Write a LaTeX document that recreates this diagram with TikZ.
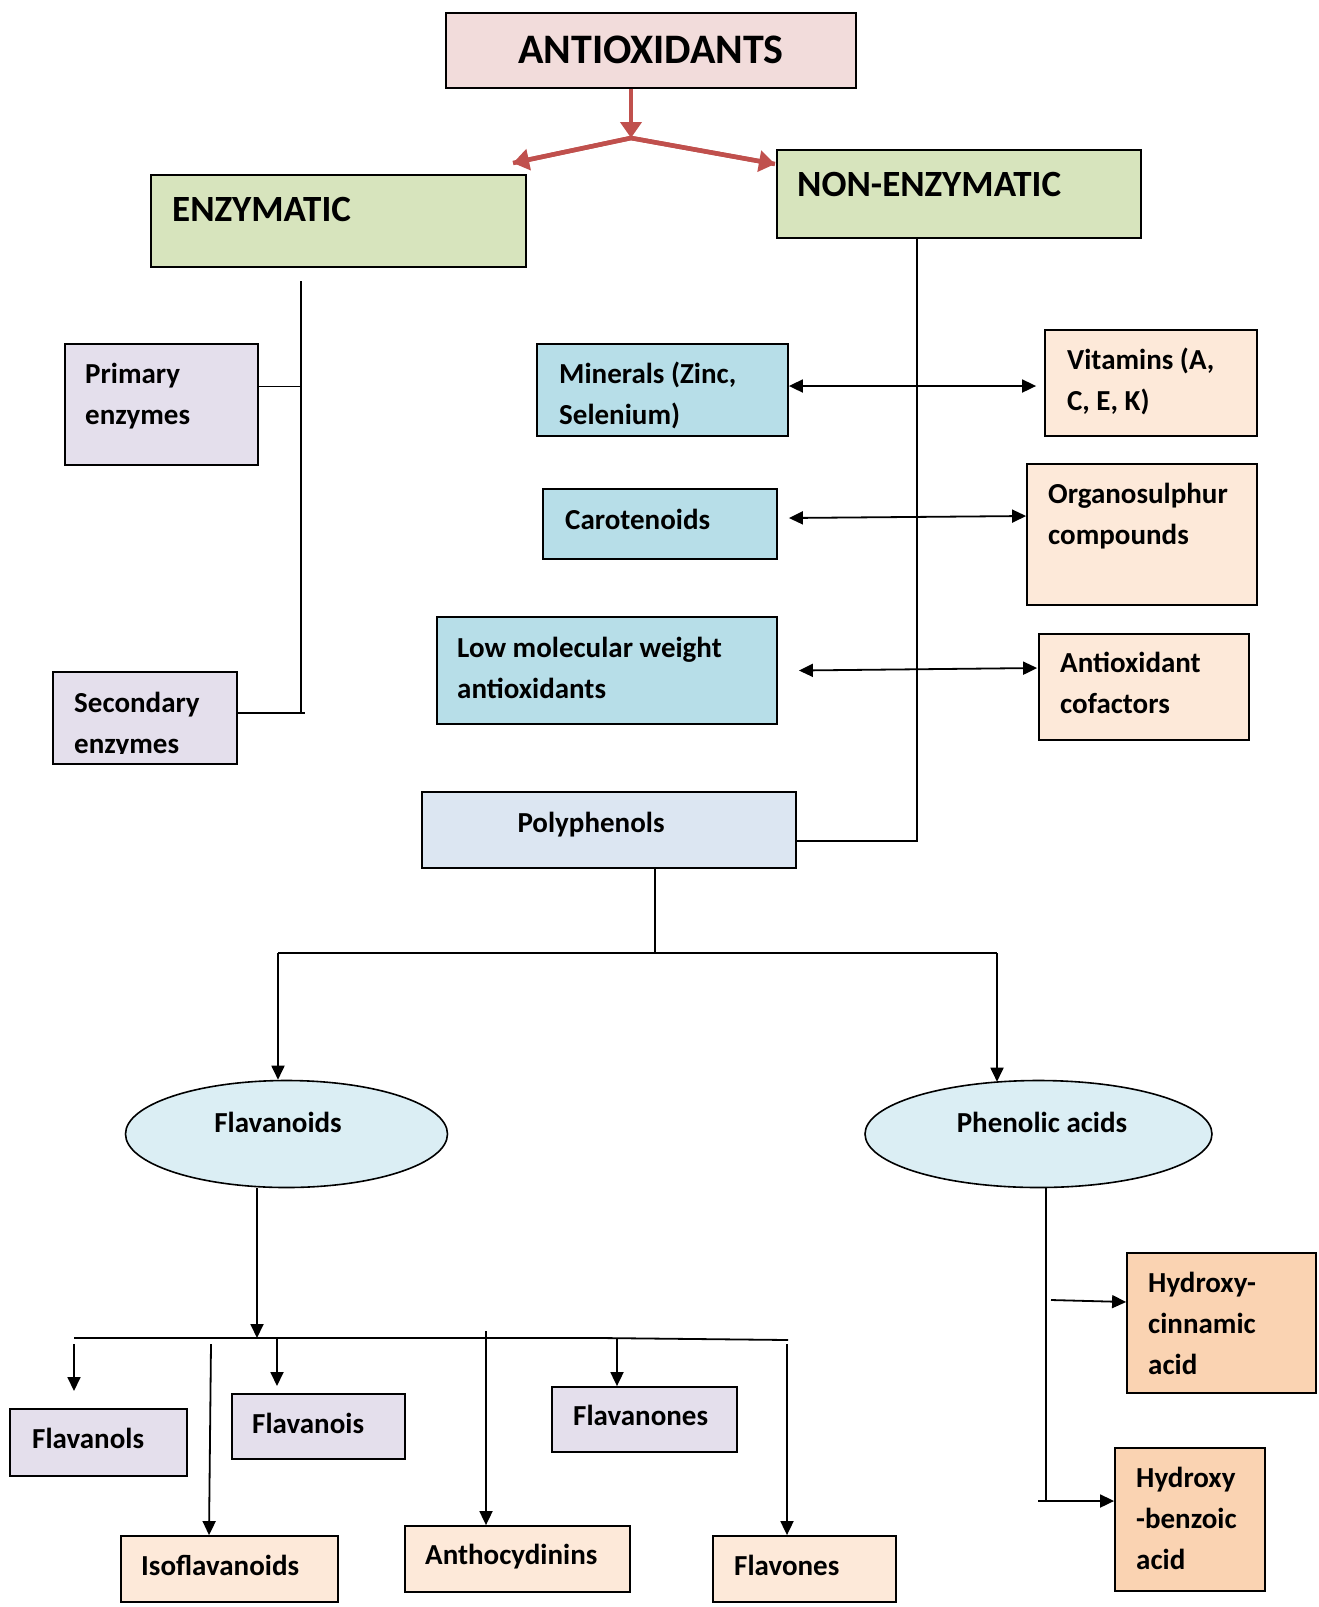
\documentclass[tikz,border=0pt]{standalone}
\usepackage{fontspec}
\setmainfont{Carlito}
\usetikzlibrary{arrows.meta,shapes.geometric,fit,calc}
\definecolor{pinkc}{HTML}{F2DCDB}
\definecolor{greenc}{HTML}{D7E4BD}
\definecolor{purplec}{HTML}{E4DFEC}
\definecolor{bluec}{HTML}{B7DEE8}
\definecolor{peachc}{HTML}{FDE9D9}
\definecolor{polyc}{HTML}{DCE6F2}
\definecolor{ellc}{HTML}{DBEEF4}
\definecolor{orangec}{HTML}{FAD3B2}
\definecolor{redc}{HTML}{C0504D}
\begin{document}
\begin{tikzpicture}[x=1pt,y=-1pt,
  bx/.style={draw=black, line width=1.8pt, inner sep=0pt},
  el/.style={ellipse, draw=black, line width=1.6pt, fill=ellc, inner sep=0pt},
  tx/.style={font=\bfseries\fontsize{29}{41}\selectfont, inner sep=0pt, anchor=north west, yshift=28.7pt, align=left},
  tc/.style={font=\bfseries\fontsize{29}{41}\selectfont, inner sep=0pt, anchor=base},
  ln/.style={line width=1.8pt},
  arr/.style={ln, -{Triangle[length=14pt,width=13pt]}},
  darr/.style={ln, {Triangle[length=14pt,width=13pt]}-{Triangle[length=14pt,width=13pt]}},
  rarr/.style={line width=4.5pt, draw=redc, -{Triangle[length=16pt,width=21pt]}},
]
\useasboundingbox[fill=white] (0,0) rectangle (1319,1607);

% --- top level
\node[bx, fill=pinkc, fit={(446,13)(856,88)}] (anti) {};
\node[font=\bfseries\fontsize{42}{50}\selectfont, inner sep=0pt, anchor=base] (antit) at (651,63) {ANTIOXIDANTS};
\node[bx, fill=greenc, fit={(151,175)(526,267)}] (enz) {};
\node[font=\bfseries\fontsize{37}{44}\selectfont, inner sep=0pt, anchor=base west] (enzt) at (172,221) {ENZYMATIC};
\node[bx, fill=greenc, fit={(777,150)(1141,238)}] (nonenz) {};
\node[font=\bfseries\fontsize{37}{44}\selectfont, inner sep=0pt, anchor=base west] (nonenzt) at (797,196) {NON-ENZYMATIC};

\coordinate (J) at (631,138);
\coordinate (Lt) at (513,163);
\coordinate (Rt) at (775,164);
\draw[rarr] (anti.south -| J) -- (J);
\draw[line width=4.5pt, draw=redc] (Lt) -- (J) -- (Rt);
\draw[rarr] (J) -- (Lt);
\draw[rarr] (J) -- (Rt);

% --- enzymatic branch
\node[bx, fill=purplec, fit={(65,344)(258,465)}] (prim) {};
\node[tx] (primt) at (85,383) {\strut Primary\\enzymes};
\node[bx, fill=purplec, fit={(53,672)(237,764)}] (sec) {};
\begin{scope}
\clip (53,672) rectangle (237,753);
\node[tx] (sect) at (74,712) {\strut Secondary\\enzymes};
\end{scope}
\coordinate (et) at (301,281);
\coordinate (eb) at (301,713);
\draw[ln] (et) -- (eb);
\draw[ln] ([yshift=18pt]prim.east) -- ([yshift=18pt]prim.east -| et);
\draw[ln] ([yshift=5pt]sec.east) -- ++(67,0);

% --- non-enzymatic branch
\node[bx, fill=bluec, fit={(537,344)(788,436)}] (minr) {};
\node[tx] (minrt) at (559,383) {\strut Minerals (Zinc,\\Selenium)};
\node[bx, fill=peachc, fit={(1045,330)(1257,436)}] (vit) {};
\node[tx] (vitt) at (1067,369) {\strut Vitamins (A,\\C, E, K)};
\node[bx, fill=bluec, fit={(543,489)(777,559)}] (car) {};
\node[tx] (cart) at (565,529) {\strut Carotenoids};
\node[bx, fill=peachc, fit={(1027,464)(1257,605)}] (org) {};
\node[tx] (orgt) at (1048,503) {\strut Organosulphur\\compounds};
\node[bx, fill=bluec, fit={(437,617)(777,724)}] (low) {};
\node[tx] (lowt) at (457,657) {\strut Low molecular weight\\antioxidants};
\node[bx, fill=peachc, fit={(1039,634)(1249,740)}] (cof) {};
\node[tx] (coft) at (1060,672) {\strut Antioxidant\\cofactors};
\node[bx, fill=polyc, fit={(422,792)(796,868)}] (poly) {};
\node[tc] (polyt) at (591,832) {Polyphenols};

\coordinate (nt) at (917,238);
\draw[ln] (nt) |- ([yshift=-11pt]poly.east);
\draw[darr] ([yshift=4pt]minr.east) -- ([xshift=-8pt,yshift=-3pt]vit.west);
\draw[darr] ([xshift=11pt,yshift=6pt]car.east) -- ([yshift=18.5pt]org.west);
\draw[darr] ([xshift=21pt]low.east) -- ([xshift=-1pt,yshift=19pt]cof.west);

% --- polyphenols split
\node[el, minimum width=322pt, minimum height=107pt] (flav) at (286.5,1134) {};
\node[tc] (flavt) at (278,1132) {Flavanoids};
\node[el, minimum width=347pt, minimum height=107pt] (phen) at (1038.5,1134) {};
\node[tc] (phent) at (1042,1132) {Phenolic acids};
\coordinate (pj) at (655,953);
\coordinate (pl) at (278,953);
\coordinate (pr) at (997,953);
\draw[ln] (poly.south -| pj) -- (pj);
\draw[ln] (pl) -- (pr);
\draw[arr] (pl) -- (pl |- flav.north);
\draw[arr] (pr) -- ([yshift=-2pt]pr |- phen.north);

% --- flavanoid children
\node[bx, fill=purplec, fit={(10,1409)(187,1476)}] (fl1) {};
\node[tx] (fl1t) at (32,1448) {\strut Flavanols};
\node[bx, fill=purplec, fit={(232,1394)(405,1459)}] (fl2) {};
\node[tx] (fl2t) at (252,1433) {\strut Flavanois};
\node[bx, fill=purplec, fit={(552,1387)(737,1452)}] (fl3) {};
\node[tx] (fl3t) at (573,1425) {\strut Flavanones};
\node[bx, fill=peachc, fit={(121,1536)(338,1602)}] (fl4) {};
\node[tx] (fl4t) at (141,1575) {\strut Isoflavanoids};
\node[bx, fill=peachc, fit={(405,1526)(630,1592)}] (fl5) {};
\node[tx] (fl5t) at (425,1564) {\strut Anthocydinins};
\node[bx, fill=peachc, fit={(713,1536)(896,1602)}] (fl6) {};
\node[tx] (fl6t) at (734,1575) {\strut Flavones};

\coordinate (fj) at (257,1338);
\draw[arr] (flav.south -| fj) -- (fj);
\coordinate (hl) at (74,1338);
\coordinate (hm) at (600,1338);
\coordinate (hr) at (788,1340);
\draw[ln] (hl) -- (hm) -- (hr);
\coordinate (a1s) at (74,1344);
\coordinate (a1e) at (74,1391);
\draw[arr] (a1s) -- (a1e);
\coordinate (a2s) at (211,1344);
\draw[arr] (a2s) -- (fl4.north -| 209,0);
\coordinate (a3s) at (277,1338);
\coordinate (a3e) at (277,1386);
\draw[arr] (a3s) -- (a3e);
\coordinate (a4s) at (486,1331);
\draw[arr] (a4s) -- (a4s |- fl5.north);
\coordinate (a5s) at (617,1338);
\draw[arr] (a5s) -- (a5s |- fl3.north);
\coordinate (a6s) at (787,1344);
\draw[arr] (a6s) -- (a6s |- fl6.north);

% --- phenolic acids children
\node[bx, fill=orangec, fit={(1127,1253)(1316,1393)}] (hc) {};
\node[tx] (hct) at (1148,1292) {\strut Hydroxy-\\cinnamic\\acid};
\node[bx, fill=orangec, fit={(1115,1448)(1265,1591)}] (hb) {};
\node[tx] (hbt) at (1136,1487) {\strut Hydroxy\\-benzoic\\acid};
\coordinate (pv) at (1046,1501);
\draw[ln] (phen.south -| pv) -- (pv);
\coordinate (pb) at (1038,1501);
\draw[arr] (pb) -- (pb -| hb.west);
\coordinate (pc) at (1051,1300);
\draw[arr] (pc) -- ([yshift=21pt]hc.west);
\end{tikzpicture}
\end{document}
